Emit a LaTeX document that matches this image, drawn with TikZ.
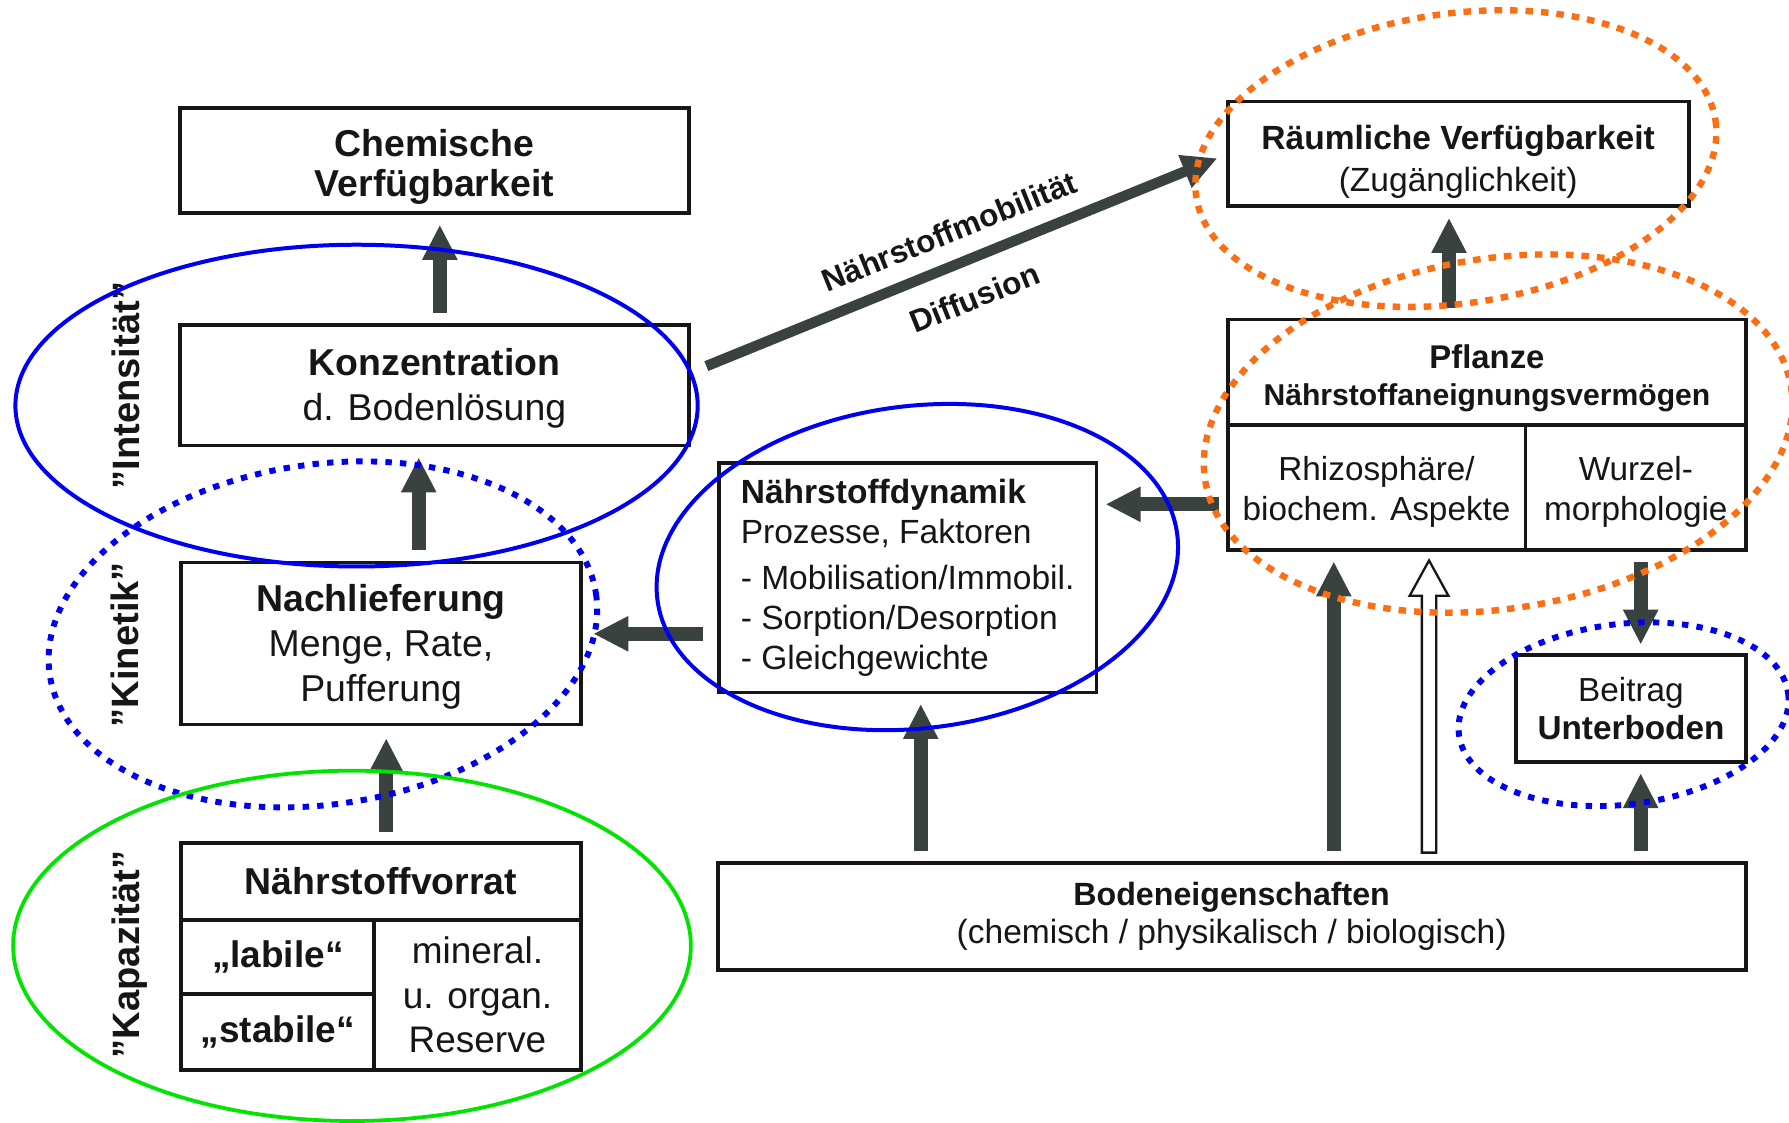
\documentclass[tikz,border=0pt]{standalone}
\usepackage{fontspec}
\setmainfont{Liberation Sans}
\usetikzlibrary{arrows.meta,calc}
\definecolor{arrowgray}{RGB}{58,66,64}
\definecolor{ellblue}{RGB}{0,0,240}
\definecolor{ellgreen}{RGB}{0,228,0}
\definecolor{ellorange}{RGB}{250,110,20}
\definecolor{ink}{RGB}{22,22,22}
\newcommand{\fsz}[2]{\fontsize{#1}{#2}\selectfont}
\begin{document}
\begin{tikzpicture}[x=0.5pt,y=-0.5pt,
  box/.style={draw=ink, line width=1.7pt, inner sep=0pt, text=ink, align=center, anchor=center},
  arr/.style={draw=arrowgray, line width=6.3pt, -{Triangle[length=15pt,width=15.5pt,line width=0.6pt]}},
  hollowarr/.style={draw=ink, line width=1pt, fill=white, line join=miter},
  rotlab/.style={rotate=90, anchor=base, inner sep=0pt, text=ink, font={\fsz{16.7}{20}\bfseries}},
  diaglab/.style={rotate=22, inner sep=0pt, text=ink, font={\fsz{13.8}{17}\bfseries}},
  solidell/.style={draw=ellblue, line width=1.75pt},
  dotell/.style={draw=ellblue, line width=2.6pt, dash pattern=on 2.8pt off 3.6pt},
  orangeell/.style={draw=ellorange, line width=2.8pt, dash pattern=on 3.3pt off 3.5pt}
]
\fill[white] (0,0) rectangle (1568,984);
\useasboundingbox (0,0) rectangle (1568,984);

% helper coordinates for connector lines
\coordinate (v385) at (385.5,0);
\coordinate (v367) at (367,0);
\coordinate (v339) at (338.5,0);
\coordinate (v807) at (807,0);
\coordinate (v1169) at (1169,0);
\coordinate (v1252) at (1252.5,0);
\coordinate (v1270) at (1270,0);
\coordinate (v1438) at (1438,0);
\coordinate (h442) at (0,442);
\coordinate (h556) at (0,555.5);

% ---------- boxes ----------
\node[box, minimum width=222.75pt, minimum height=46pt, font={\fsz{16.4}{17.5}\bfseries}] (chem) at (380.75,141) {\rule{0pt}{17pt}Chemische\\Verfügbarkeit};
\node[box, minimum width=222.75pt, minimum height=52.75pt, font={\fsz{16.4}{19.7}}] (konz) at (380.75,337.75) {\rule{0pt}{14.5pt}\textbf{Konzentration}\\d. Bodenlösung};
\node[box, minimum width=175pt, minimum height=71pt, font={\fsz{16.4}{19.75}}] (nach) at (334,564) {\rule{0pt}{14.5pt}\textbf{Nachlieferung}\\Menge, Rate,\\Pufferung};
\node[box, minimum width=175pt, minimum height=33.5pt, font={\fsz{16.4}{19}\bfseries}] (vtop) at (334,772.5) {Nährstoffvorrat};
\node[box, minimum width=84.5pt, minimum height=32.75pt, font={\fsz{16.2}{19}\bfseries}] (vlab) at (243.5,838.75) {„labile“};
\node[box, minimum width=84.5pt, minimum height=33.25pt, font={\fsz{16.2}{19}\bfseries}] (vstab) at (243.5,904.75) {„stabile“};
\node[box, minimum width=90.5pt, minimum height=66pt, font={\fsz{16.2}{19.5}}] (vres) at (418.5,872) {mineral.\\u. organ.\\Reserve};

\node[box, align=left, minimum width=165.5pt, minimum height=100.5pt, font={\fsz{14.7}{17.5}}] (dyn) at (795.5,506.5) {\textbf{Nährstoffdynamik}\\Prozesse, Faktoren\\[3pt]- Mobilisation/Immobil.\\- Sorption/Desorption\\- Gleichgewichte};

\node[box, minimum width=202pt, minimum height=45.75pt, font={\fsz{14.7}{18.5}}] (raum) at (1278,134.75) {\rule{0pt}{17.5pt}\textbf{Räumliche Verfügbarkeit}\\(Zugänglichkeit)};
\node[box, minimum width=227.25pt, minimum height=46.25pt, font={\fsz{14.4}{16.4}}] (pflh) at (1303.25,326.25) {\rule{0pt}{15.5pt}\textbf{Pflanze}\\{\fsz{13.2}{16.4}\bfseries Nährstoffaneignungsvermögen}};
\node[box, minimum width=130.5pt, minimum height=54.75pt, font={\fsz{14.6}{17.5}}] (rhizo) at (1206.5,427.25) {\rule{0pt}{14.5pt}Rhizosphäre/\\biochem. Aspekte};
\node[box, minimum width=96.75pt, minimum height=54.75pt, font={\fsz{14.6}{17.5}}] (wurzel) at (1433.75,427.25) {\rule{0pt}{14.5pt}Wurzel-\\morphologie};
\node[box, minimum width=100.5pt, minimum height=47pt, font={\fsz{14.6}{16.8}}] (beitrag) at (1429.5,621) {Beitrag\\\textbf{Unterboden}};
\node[box, minimum width=450.5pt, minimum height=47pt, font={\fsz{14.7}{16.8}}] (boden) at (1079.5,803) {{\fsz{14.1}{16.8}\bfseries Bodeneigenschaften}\\(chemisch / physikalisch / biologisch)};

% ---------- side labels ----------
\node[rotlab] (lint) at (122,338) {"Intensität"};
\node[rotlab] (lkin) at (121,565) {"Kinetik"};
\node[rotlab] (lkap) at (122,836.5) {"Kapazität"};

% ---------- arrows ----------
\draw[arr, shorten <=4.5pt, shorten >=4.5pt] (konz.north -| v385) -- (chem.south -| v385);
\draw[arr, shorten <=4.5pt, shorten >=4.7pt] (nach.north -| v367) -- (konz.south -| v367);
\draw[arr, shorten <=4pt, shorten >=5.5pt] (vtop.north -| v339) -- (nach.south -| v339);
\draw[arr, shorten <=6pt, shorten >=5pt] (dyn.west |- h556) -- (nach.east |- h556);
\draw[arr, shorten <=3pt, shorten >=3.5pt] (rhizo.west |- h442) -- (dyn.east |- h442);
\draw[arr, shorten <=4pt, shorten >=4.75pt] (pflh.north -| v1270) -- (raum.south -| v1270);
\draw[arr, shorten <=4pt, shorten >=4.5pt] (boden.north -| v807) -- (dyn.south -| v807);
\draw[arr, shorten <=4pt, shorten >=4.5pt] (boden.north -| v1169) -- (rhizo.south -| v1169);
\draw[arr, shorten <=4.5pt, shorten >=4pt] (wurzel.south -| v1438) -- (beitrag.north -| v1438);
\draw[arr, shorten <=4pt, shorten >=4.3pt] (boden.north -| v1438) -- (beitrag.south -| v1438);
\draw[arr, line width=4.6pt, shorten <=7.5pt, shorten >=4.3pt] ([yshift=5.6pt]konz.east) -- ([yshift=-0.5pt]raum.west);

% hollow arrow Bodeneigenschaften -> Pflanze
\draw[hollowarr] ($(boden.north -| v1252)+(-6.3,-7)$) -- ($(rhizo.south -| v1252)+(-6.3,38.5)$)
  -- ($(rhizo.south -| v1252)+(-17,38.5)$) -- ($(rhizo.south -| v1252)+(0,7.5)$)
  -- ($(rhizo.south -| v1252)+(17,38.5)$) -- ($(rhizo.south -| v1252)+(6.3,38.5)$)
  -- ($(boden.north -| v1252)+(6.3,-7)$) -- cycle;

% diagonal labels
\node[diaglab] (lmob) at (832,203) {Nährstoffmobilität};
\node[diaglab] (ldif) at (854,261) {Diffusion};

% ---------- ellipses ----------
\draw[solidell] (312.5,355.5) ellipse [x radius=299, y radius=141];
\draw[dotell, rotate around={8.4:(283,556)}] (283,556) ellipse [x radius=242, y radius=149];
\draw[draw=ellgreen, line width=1.65pt] (308.5,829) ellipse [x radius=297, y radius=153.5];
\draw[solidell, rotate around={7.1:(804,497)}] (804,497) ellipse [x radius=229.6, y radius=141.2];
\draw[orangeell, rotate around={8.3:(1276,139)}] (1276,139) ellipse [x radius=230, y radius=127];
\draw[orangeell, rotate around={9:(1313,380)}] (1313,380) ellipse [x radius=260, y radius=153.5];
\draw[dotell, rotate around={7:(1423,626)}] (1423,626) ellipse [x radius=145.4, y radius=79.1];
\end{tikzpicture}
\end{document}
